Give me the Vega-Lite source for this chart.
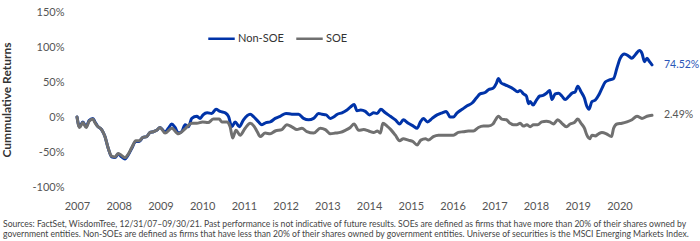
{
  "$schema": "https://vega.github.io/schema/vega-lite/v6.json",
  "width": 575,
  "height": 175,
  "autosize": {"type": "none"},
  "padding": {"left": 77, "top": 12, "right": 48, "bottom": 54},
  "background": "white",
  "config": {"view": {"stroke": null}, "font": "Lato", "axis": {"labelOverlap": false, "labelFlush": false}},
  "title": {
    "text": [
      "Sources: FactSet, WisdomTree, 12/31/07–09/30/21. Past performance is not indicative of future results. SOEs are defined as firms that have more than 20% of their shares owned by",
      "government entities. Non-SOEs are defined as firms that have less than 20% of their shares owned by government entities. Universe of securities is the MSCI Emerging Markets Index."
    ],
    "orient": "bottom",
    "anchor": "start",
    "frame": "group",
    "fontSize": 8.6,
    "fontWeight": "normal",
    "color": "#444",
    "offset": 9,
    "dx": -74,
    "lineHeight": 9.5
  },
  "encoding": {
    "x": {
      "field": "t", "type": "quantitative",
      "scale": {"domain": [2007, 2020.78], "nice": false, "zero": false},
      "axis": {"title": null, "values": [2007, 2008, 2009, 2010, 2011, 2012, 2013, 2014, 2015, 2016, 2017, 2018, 2019, 2020], "format": "d", "grid": false, "domain": false, "ticks": false, "labelFlush": false, "labelOverlap": false, "labelPadding": 13, "labelFontSize": 11, "labelColor": "#555"}
    },
    "y": {
      "field": "v", "type": "quantitative",
      "scale": {"domain": [-100, 150], "nice": false},
      "axis": {"title": "Cummulative Returns", "values": [-100, -50, 0, 50, 100, 150], "labelExpr": "datum.value + '%'", "grid": false, "domain": false, "ticks": false, "labelFlush": false, "labelOverlap": false, "labelPadding": 13, "labelFontSize": 11, "labelColor": "#555", "titleFontSize": 12, "titleFontWeight": "bold", "titleColor": "#333", "titlePadding": 18}
    }
  },
  "layer": [
    {
      "data": {
        "values": [
          {"s": "Non-SOE", "t": 2007.0, "v": 0}, {"s": "Non-SOE", "t": 2007.06, "v": -14}, {"s": "Non-SOE", "t": 2007.14, "v": -7}, {"s": "Non-SOE", "t": 2007.22, "v": -14}, {"s": "Non-SOE", "t": 2007.29, "v": -5}, {"s": "Non-SOE", "t": 2007.38, "v": -2}, {"s": "Non-SOE", "t": 2007.43, "v": -7}, {"s": "Non-SOE", "t": 2007.49, "v": -13}, {"s": "Non-SOE", "t": 2007.59, "v": -18}, {"s": "Non-SOE", "t": 2007.67, "v": -28}, {"s": "Non-SOE", "t": 2007.75, "v": -45}, {"s": "Non-SOE", "t": 2007.83, "v": -57}, {"s": "Non-SOE", "t": 2007.91, "v": -58}, {"s": "Non-SOE", "t": 2007.99, "v": -53}, {"s": "Non-SOE", "t": 2008.07, "v": -57}, {"s": "Non-SOE", "t": 2008.15, "v": -60}, {"s": "Non-SOE", "t": 2008.23, "v": -54}, {"s": "Non-SOE", "t": 2008.31, "v": -45}, {"s": "Non-SOE", "t": 2008.41, "v": -35}, {"s": "Non-SOE", "t": 2008.49, "v": -35}, {"s": "Non-SOE", "t": 2008.58, "v": -29}, {"s": "Non-SOE", "t": 2008.67, "v": -28}, {"s": "Non-SOE", "t": 2008.75, "v": -22}, {"s": "Non-SOE", "t": 2008.83, "v": -21}, {"s": "Non-SOE", "t": 2008.91, "v": -19}, {"s": "Non-SOE", "t": 2008.99, "v": -15},
          {"s": "Non-SOE", "t": 2009.11, "v": -21}, {"s": "Non-SOE", "t": 2009.19, "v": -16}, {"s": "Non-SOE", "t": 2009.27, "v": -10}, {"s": "Non-SOE", "t": 2009.35, "v": -15}, {"s": "Non-SOE", "t": 2009.43, "v": -23}, {"s": "Non-SOE", "t": 2009.51, "v": -21}, {"s": "Non-SOE", "t": 2009.59, "v": -11}, {"s": "Non-SOE", "t": 2009.67, "v": -14}, {"s": "Non-SOE", "t": 2009.75, "v": -2}, {"s": "Non-SOE", "t": 2009.87, "v": 1}, {"s": "Non-SOE", "t": 2009.95, "v": -2}, {"s": "Non-SOE", "t": 2010.02, "v": 3}, {"s": "Non-SOE", "t": 2010.12, "v": 6}, {"s": "Non-SOE", "t": 2010.23, "v": 5}, {"s": "Non-SOE", "t": 2010.33, "v": 11}, {"s": "Non-SOE", "t": 2010.43, "v": 8}, {"s": "Non-SOE", "t": 2010.55, "v": 6}, {"s": "Non-SOE", "t": 2010.63, "v": 1}, {"s": "Non-SOE", "t": 2010.71, "v": -14}, {"s": "Non-SOE", "t": 2010.79, "v": -7}, {"s": "Non-SOE", "t": 2010.89, "v": -14}, {"s": "Non-SOE", "t": 2010.99, "v": -4}, {"s": "Non-SOE", "t": 2011.15, "v": 4}, {"s": "Non-SOE", "t": 2011.24, "v": 0}, {"s": "Non-SOE", "t": 2011.35, "v": -7}, {"s": "Non-SOE", "t": 2011.43, "v": -11}, {"s": "Non-SOE", "t": 2011.53, "v": -8}, {"s": "Non-SOE", "t": 2011.63, "v": -7}, {"s": "Non-SOE", "t": 2011.75, "v": -2}, {"s": "Non-SOE", "t": 2011.87, "v": 1}, {"s": "Non-SOE", "t": 2012.01, "v": 5}, {"s": "Non-SOE", "t": 2012.15, "v": 4}, {"s": "Non-SOE", "t": 2012.31, "v": 4}, {"s": "Non-SOE", "t": 2012.43, "v": -2}, {"s": "Non-SOE", "t": 2012.55, "v": -4}, {"s": "Non-SOE", "t": 2012.67, "v": -2}, {"s": "Non-SOE", "t": 2012.79, "v": 5}, {"s": "Non-SOE", "t": 2012.87, "v": 4}, {"s": "Non-SOE", "t": 2012.97, "v": 3}, {"s": "Non-SOE", "t": 2013.07, "v": -2}, {"s": "Non-SOE", "t": 2013.15, "v": 0}, {"s": "Non-SOE", "t": 2013.24, "v": 4}, {"s": "Non-SOE", "t": 2013.35, "v": 6}, {"s": "Non-SOE", "t": 2013.47, "v": 10}, {"s": "Non-SOE", "t": 2013.55, "v": 14}, {"s": "Non-SOE", "t": 2013.64, "v": 18}, {"s": "Non-SOE", "t": 2013.71, "v": 9}, {"s": "Non-SOE", "t": 2013.8, "v": 10}, {"s": "Non-SOE", "t": 2013.91, "v": 8}, {"s": "Non-SOE", "t": 2014.01, "v": 3}, {"s": "Non-SOE", "t": 2014.11, "v": 6}, {"s": "Non-SOE", "t": 2014.19, "v": 5}, {"s": "Non-SOE", "t": 2014.28, "v": 11}, {"s": "Non-SOE", "t": 2014.39, "v": 6}, {"s": "Non-SOE", "t": 2014.51, "v": 1}, {"s": "Non-SOE", "t": 2014.63, "v": -4}, {"s": "Non-SOE", "t": 2014.73, "v": -10}, {"s": "Non-SOE", "t": 2014.82, "v": -4}, {"s": "Non-SOE", "t": 2014.94, "v": -9}, {"s": "Non-SOE", "t": 2015.06, "v": -13}, {"s": "Non-SOE", "t": 2015.15, "v": -16}, {"s": "Non-SOE", "t": 2015.23, "v": -7}, {"s": "Non-SOE", "t": 2015.3, "v": -2}, {"s": "Non-SOE", "t": 2015.4, "v": -7}, {"s": "Non-SOE", "t": 2015.51, "v": -2}, {"s": "Non-SOE", "t": 2015.63, "v": 3}, {"s": "Non-SOE", "t": 2015.75, "v": 6}, {"s": "Non-SOE", "t": 2015.85, "v": 8}, {"s": "Non-SOE", "t": 2015.94, "v": 0}, {"s": "Non-SOE", "t": 2016.02, "v": 0}, {"s": "Non-SOE", "t": 2016.11, "v": 6}, {"s": "Non-SOE", "t": 2016.23, "v": 11}, {"s": "Non-SOE", "t": 2016.35, "v": 16}, {"s": "Non-SOE", "t": 2016.47, "v": 20}, {"s": "Non-SOE", "t": 2016.57, "v": 27}, {"s": "Non-SOE", "t": 2016.66, "v": 33}, {"s": "Non-SOE", "t": 2016.78, "v": 35}, {"s": "Non-SOE", "t": 2016.86, "v": 39}, {"s": "Non-SOE", "t": 2016.97, "v": 41}, {"s": "Non-SOE", "t": 2017.05, "v": 48}, {"s": "Non-SOE", "t": 2017.1, "v": 55}, {"s": "Non-SOE", "t": 2017.16, "v": 49}, {"s": "Non-SOE", "t": 2017.26, "v": 46}, {"s": "Non-SOE", "t": 2017.37, "v": 43}, {"s": "Non-SOE", "t": 2017.46, "v": 40}, {"s": "Non-SOE", "t": 2017.56, "v": 36}, {"s": "Non-SOE", "t": 2017.62, "v": 38}, {"s": "Non-SOE", "t": 2017.7, "v": 33}, {"s": "Non-SOE", "t": 2017.77, "v": 30}, {"s": "Non-SOE", "t": 2017.82, "v": 19}, {"s": "Non-SOE", "t": 2017.86, "v": 22}, {"s": "Non-SOE", "t": 2017.93, "v": 17}, {"s": "Non-SOE", "t": 2018.01, "v": 24}, {"s": "Non-SOE", "t": 2018.09, "v": 30}, {"s": "Non-SOE", "t": 2018.17, "v": 31}, {"s": "Non-SOE", "t": 2018.25, "v": 34}, {"s": "Non-SOE", "t": 2018.33, "v": 38}, {"s": "Non-SOE", "t": 2018.38, "v": 25}, {"s": "Non-SOE", "t": 2018.46, "v": 33}, {"s": "Non-SOE", "t": 2018.54, "v": 34}, {"s": "Non-SOE", "t": 2018.62, "v": 30}, {"s": "Non-SOE", "t": 2018.7, "v": 25}, {"s": "Non-SOE", "t": 2018.78, "v": 29}, {"s": "Non-SOE", "t": 2018.86, "v": 34}, {"s": "Non-SOE", "t": 2018.94, "v": 36}, {"s": "Non-SOE", "t": 2019.0, "v": 44}, {"s": "Non-SOE", "t": 2019.08, "v": 36}, {"s": "Non-SOE", "t": 2019.16, "v": 27}, {"s": "Non-SOE", "t": 2019.22, "v": 15}, {"s": "Non-SOE", "t": 2019.27, "v": 11}, {"s": "Non-SOE", "t": 2019.34, "v": 22}, {"s": "Non-SOE", "t": 2019.42, "v": 24}, {"s": "Non-SOE", "t": 2019.5, "v": 31}, {"s": "Non-SOE", "t": 2019.58, "v": 41}, {"s": "Non-SOE", "t": 2019.66, "v": 50}, {"s": "Non-SOE", "t": 2019.76, "v": 53}, {"s": "Non-SOE", "t": 2019.86, "v": 55}, {"s": "Non-SOE", "t": 2019.94, "v": 70}, {"s": "Non-SOE", "t": 2020.02, "v": 84}, {"s": "Non-SOE", "t": 2020.12, "v": 90}, {"s": "Non-SOE", "t": 2020.22, "v": 87}, {"s": "Non-SOE", "t": 2020.3, "v": 84}, {"s": "Non-SOE", "t": 2020.38, "v": 89}, {"s": "Non-SOE", "t": 2020.48, "v": 95}, {"s": "Non-SOE", "t": 2020.54, "v": 91}, {"s": "Non-SOE", "t": 2020.6, "v": 79}, {"s": "Non-SOE", "t": 2020.66, "v": 84}, {"s": "Non-SOE", "t": 2020.72, "v": 79}, {"s": "Non-SOE", "t": 2020.78, "v": 74.52},
          {"s": "SOE", "t": 2007.0, "v": 0}, {"s": "SOE", "t": 2007.06, "v": -15}, {"s": "SOE", "t": 2007.14, "v": -8}, {"s": "SOE", "t": 2007.22, "v": -15}, {"s": "SOE", "t": 2007.29, "v": -6}, {"s": "SOE", "t": 2007.38, "v": -3}, {"s": "SOE", "t": 2007.43, "v": -8}, {"s": "SOE", "t": 2007.49, "v": -13}, {"s": "SOE", "t": 2007.59, "v": -18}, {"s": "SOE", "t": 2007.67, "v": -28}, {"s": "SOE", "t": 2007.75, "v": -45}, {"s": "SOE", "t": 2007.83, "v": -56}, {"s": "SOE", "t": 2007.91, "v": -57}, {"s": "SOE", "t": 2007.99, "v": -52}, {"s": "SOE", "t": 2008.07, "v": -55}, {"s": "SOE", "t": 2008.15, "v": -58}, {"s": "SOE", "t": 2008.23, "v": -53}, {"s": "SOE", "t": 2008.31, "v": -44}, {"s": "SOE", "t": 2008.41, "v": -34}, {"s": "SOE", "t": 2008.49, "v": -34}, {"s": "SOE", "t": 2008.58, "v": -29}, {"s": "SOE", "t": 2008.67, "v": -28}, {"s": "SOE", "t": 2008.75, "v": -22}, {"s": "SOE", "t": 2008.83, "v": -21}, {"s": "SOE", "t": 2008.91, "v": -19}, {"s": "SOE", "t": 2008.99, "v": -15},
          {"s": "SOE", "t": 2009.11, "v": -23}, {"s": "SOE", "t": 2009.27, "v": -16}, {"s": "SOE", "t": 2009.43, "v": -24}, {"s": "SOE", "t": 2009.59, "v": -17}, {"s": "SOE", "t": 2009.75, "v": -9}, {"s": "SOE", "t": 2009.87, "v": -9}, {"s": "SOE", "t": 2010.01, "v": -7}, {"s": "SOE", "t": 2010.14, "v": -8}, {"s": "SOE", "t": 2010.27, "v": -3}, {"s": "SOE", "t": 2010.41, "v": -3}, {"s": "SOE", "t": 2010.47, "v": -7}, {"s": "SOE", "t": 2010.59, "v": -7}, {"s": "SOE", "t": 2010.67, "v": -14}, {"s": "SOE", "t": 2010.73, "v": -30}, {"s": "SOE", "t": 2010.81, "v": -19}, {"s": "SOE", "t": 2010.91, "v": -26}, {"s": "SOE", "t": 2011.03, "v": -16}, {"s": "SOE", "t": 2011.15, "v": -9}, {"s": "SOE", "t": 2011.24, "v": -13}, {"s": "SOE", "t": 2011.32, "v": -21}, {"s": "SOE", "t": 2011.39, "v": -28}, {"s": "SOE", "t": 2011.51, "v": -23}, {"s": "SOE", "t": 2011.63, "v": -24}, {"s": "SOE", "t": 2011.75, "v": -20}, {"s": "SOE", "t": 2011.91, "v": -18}, {"s": "SOE", "t": 2012.03, "v": -11}, {"s": "SOE", "t": 2012.15, "v": -14}, {"s": "SOE", "t": 2012.27, "v": -18}, {"s": "SOE", "t": 2012.39, "v": -16}, {"s": "SOE", "t": 2012.51, "v": -21}, {"s": "SOE", "t": 2012.67, "v": -23}, {"s": "SOE", "t": 2012.83, "v": -16}, {"s": "SOE", "t": 2012.95, "v": -18}, {"s": "SOE", "t": 2013.07, "v": -24}, {"s": "SOE", "t": 2013.19, "v": -23}, {"s": "SOE", "t": 2013.31, "v": -22}, {"s": "SOE", "t": 2013.43, "v": -19}, {"s": "SOE", "t": 2013.55, "v": -15}, {"s": "SOE", "t": 2013.64, "v": -10}, {"s": "SOE", "t": 2013.75, "v": -19}, {"s": "SOE", "t": 2013.87, "v": -18}, {"s": "SOE", "t": 2013.99, "v": -20}, {"s": "SOE", "t": 2014.11, "v": -22}, {"s": "SOE", "t": 2014.2, "v": -20}, {"s": "SOE", "t": 2014.27, "v": -23}, {"s": "SOE", "t": 2014.33, "v": -9}, {"s": "SOE", "t": 2014.43, "v": -13}, {"s": "SOE", "t": 2014.52, "v": -18}, {"s": "SOE", "t": 2014.63, "v": -26}, {"s": "SOE", "t": 2014.73, "v": -34}, {"s": "SOE", "t": 2014.82, "v": -31}, {"s": "SOE", "t": 2014.94, "v": -33}, {"s": "SOE", "t": 2015.05, "v": -35}, {"s": "SOE", "t": 2015.15, "v": -40}, {"s": "SOE", "t": 2015.24, "v": -33}, {"s": "SOE", "t": 2015.35, "v": -31}, {"s": "SOE", "t": 2015.42, "v": -33}, {"s": "SOE", "t": 2015.54, "v": -28}, {"s": "SOE", "t": 2015.66, "v": -26}, {"s": "SOE", "t": 2015.9, "v": -26}, {"s": "SOE", "t": 2016.02, "v": -26}, {"s": "SOE", "t": 2016.14, "v": -22}, {"s": "SOE", "t": 2016.26, "v": -21}, {"s": "SOE", "t": 2016.38, "v": -20}, {"s": "SOE", "t": 2016.5, "v": -20}, {"s": "SOE", "t": 2016.62, "v": -15}, {"s": "SOE", "t": 2016.74, "v": -13}, {"s": "SOE", "t": 2016.86, "v": -13}, {"s": "SOE", "t": 2016.97, "v": -10}, {"s": "SOE", "t": 2017.02, "v": -5}, {"s": "SOE", "t": 2017.1, "v": 1}, {"s": "SOE", "t": 2017.18, "v": -3}, {"s": "SOE", "t": 2017.29, "v": -4}, {"s": "SOE", "t": 2017.38, "v": -9}, {"s": "SOE", "t": 2017.46, "v": -11}, {"s": "SOE", "t": 2017.54, "v": -11}, {"s": "SOE", "t": 2017.62, "v": -9}, {"s": "SOE", "t": 2017.7, "v": -13}, {"s": "SOE", "t": 2017.78, "v": -11}, {"s": "SOE", "t": 2017.86, "v": -14}, {"s": "SOE", "t": 2017.94, "v": -11}, {"s": "SOE", "t": 2018.04, "v": -11}, {"s": "SOE", "t": 2018.14, "v": -7}, {"s": "SOE", "t": 2018.25, "v": -6}, {"s": "SOE", "t": 2018.33, "v": -7}, {"s": "SOE", "t": 2018.42, "v": -10}, {"s": "SOE", "t": 2018.52, "v": -4}, {"s": "SOE", "t": 2018.62, "v": -9}, {"s": "SOE", "t": 2018.73, "v": -14}, {"s": "SOE", "t": 2018.82, "v": -10}, {"s": "SOE", "t": 2018.92, "v": -8}, {"s": "SOE", "t": 2019.0, "v": -3}, {"s": "SOE", "t": 2019.08, "v": -9}, {"s": "SOE", "t": 2019.16, "v": -16}, {"s": "SOE", "t": 2019.22, "v": -26}, {"s": "SOE", "t": 2019.29, "v": -31}, {"s": "SOE", "t": 2019.34, "v": -26}, {"s": "SOE", "t": 2019.42, "v": -27}, {"s": "SOE", "t": 2019.5, "v": -24}, {"s": "SOE", "t": 2019.58, "v": -22}, {"s": "SOE", "t": 2019.69, "v": -24}, {"s": "SOE", "t": 2019.81, "v": -28}, {"s": "SOE", "t": 2019.86, "v": -16}, {"s": "SOE", "t": 2019.94, "v": -10}, {"s": "SOE", "t": 2020.06, "v": -9}, {"s": "SOE", "t": 2020.18, "v": -7}, {"s": "SOE", "t": 2020.3, "v": -4}, {"s": "SOE", "t": 2020.42, "v": 1}, {"s": "SOE", "t": 2020.54, "v": -2}, {"s": "SOE", "t": 2020.66, "v": 1}, {"s": "SOE", "t": 2020.78, "v": 2.49}
        ]
      },
      "mark": {"type": "line", "strokeWidth": 3, "interpolate": "monotone", "strokeJoin": "round", "strokeCap": "round"},
      "encoding": {
        "color": {
          "field": "s", "type": "nominal",
          "scale": {"domain": ["Non-SOE", "SOE"], "range": ["#0033a8", "#707070"]},
          "legend": {"title": null, "orient": "none", "legendX": 130, "legendY": 12, "direction": "horizontal", "symbolType": "stroke", "symbolStrokeWidth": 2.5, "symbolSize": 700, "labelFontSize": 11, "labelColor": "#333", "columnPadding": 7, "labelOffset": 2}
        }
      }
    },
    {
      "data": {"values": [{"t": 2020.78, "v": 74.52, "label": "74.52%", "s": "Non-SOE"}, {"t": 2020.78, "v": 2.49, "label": "2.49%", "s": "SOE"}]},
      "mark": {"type": "text", "align": "left", "baseline": "middle", "dx": 12, "fontSize": 10.5},
      "encoding": {
        "text": {"field": "label"},
        "color": {"condition": {"test": "datum.s == 'SOE'", "value": "#555555"}, "value": "#2b56b8"}
      }
    }
  ]
}
